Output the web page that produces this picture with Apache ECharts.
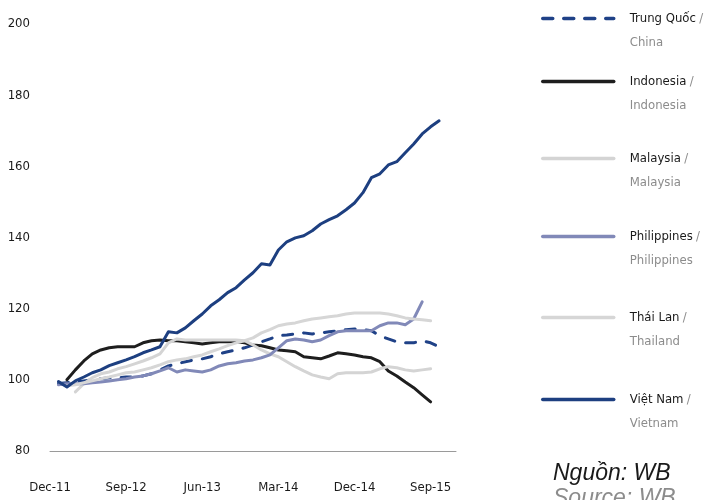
<!DOCTYPE html>
<html>
<head>
<meta charset="utf-8">
<script src="https://cdn.jsdelivr.net/npm/echarts@6/dist/echarts.min.js"></script>
<style>
  html, body { margin: 0; padding: 0; background: #fff; }
  #main { width: 707px; height: 500px; }
</style>
</head>
<body>
<div id="main"></div>
<script>
// monthly categories, Dec-11 .. Dec-15
const months = [
    'Dec-11', 'Jan-12', 'Feb-12', 'Mar-12', 'Apr-12', 'May-12', 'Jun-12', 'Jul-12', 'Aug-12', 'Sep-12', 'Oct-12', 'Nov-12', 'Dec-12',
    'Jan-13', 'Feb-13', 'Mar-13', 'Apr-13', 'May-13', 'Jun-13', 'Jul-13', 'Aug-13', 'Sep-13', 'Oct-13', 'Nov-13', 'Dec-13',
    'Jan-14', 'Feb-14', 'Mar-14', 'Apr-14', 'May-14', 'Jun-14', 'Jul-14', 'Aug-14', 'Sep-14', 'Oct-14', 'Nov-14', 'Dec-14',
    'Jan-15', 'Feb-15', 'Mar-15', 'Apr-15', 'May-15', 'Jun-15', 'Jul-15', 'Aug-15', 'Sep-15', 'Oct-15', 'Nov-15', 'Dec-15'
];
const tickLabels = ['Dec-11', 'Sep-12', 'Jun-13', 'Mar-14', 'Dec-14', 'Sep-15'];
const yTicks = [80, 100, 120, 140, 160, 180, 200];

const namesVi = ['Trung Quốc', 'Indonesia', 'Malaysia', 'Philippines', 'Thái Lan', 'Việt Nam'];
const namesEn = ['China', 'Indonesia', 'Malaysia', 'Philippines', 'Thailand', 'Vietnam'];

const china = [null, 99, 99.2, 99.4, 99.7, 100, 100.3, 100.6, 100.6, 100.8, 100.8, 101.1, 101.7,
    102.8, 103.9, 104.5, 105.1, 105.6, 105.9, 106.5, 107.3, 107.9, 108.4, 109, 109.8,
    110.7, 111.5, 112.4, 112.6, 112.9, 113.2, 112.9, 113.2, 113.5, 113.8, 114.1, 114.3,
    114.1, 113.8, 112.4, 111.5, 110.7, 110.4, 110.4, 111, 110.4, 109.3];
const indonesia = [null, null, 100, 102.8, 105.3, 107.3, 108.4, 109, 109.3, 109.3, 109.3, 110.4, 111,
    111.2, 111, 111, 110.7, 110.4, 110.1, 110.4, 110.7, 110.7, 110.7, 110.4, 109.8,
    109.6, 109, 108.4, 108.2, 107.9, 106.5, 106.2, 105.9, 106.7, 107.6, 107.3, 107,
    106.5, 106.2, 105.1, 102.5, 101.1, 99.4, 97.8, 95.8, 93.8];
const malaysia = [null, null, null, 96.6, 98.9, 100.6, 101.7, 102.2, 103.1, 103.7, 104.5, 105.3, 106.2,
    107.3, 110.4, 111.5, 111.2, 111.2, 111.2, 111.2, 111.2, 111.2, 111.2, 111, 109.8,
    108.4, 107.3, 106.5, 105.1, 103.7, 102.5, 101.4, 100.8, 100.3, 101.7, 102, 102,
    102, 102.2, 103.1, 103.7, 103.4, 102.8, 102.5, 102.8, 103.1];
const philippines = [null, 98.6, 98.9, 98.9, 98.9, 99.2, 99.4, 99.7, 100, 100.3, 100.8, 101.1, 101.7,
    102.5, 103.4, 102.2, 102.8, 102.5, 102.2, 102.8, 103.9, 104.5, 104.8, 105.3, 105.6,
    106.2, 107, 109, 111, 111.5, 111.2, 110.7, 111.2, 112.4, 113.5, 113.8, 113.8,
    113.8, 113.8, 115.2, 116, 116, 115.5, 117.1, 121.9];
const thailand = [null, null, 98.3, 98.6, 99.2, 99.7, 100.3, 100.8, 101.4, 102, 102.2, 102.8, 103.4,
    104.2, 105.1, 105.6, 105.9, 106.5, 107, 107.9, 108.7, 109.6, 110.4, 111, 111.8,
    113.2, 114.1, 115.2, 115.7, 116, 116.6, 117.1, 117.4, 117.7, 118, 118.5, 118.8,
    118.8, 118.8, 118.8, 118.5, 118, 117.4, 117.1, 116.9, 116.6];
const vietnam = [null, 99.5, 98, 99.7, 100.8, 102, 102.8, 104, 104.8, 105.6, 106.5, 107.6, 108.4,
    109.3, 113.5, 113.2, 114.6, 116.6, 118.5, 120.8, 122.5, 124.5, 125.9, 128.1, 130.1,
    132.6, 132.3, 136.5, 138.8, 139.9, 140.5, 141.9, 143.8, 145, 146.1, 147.8, 149.7,
    152.6, 156.8, 157.9, 160.4, 161.3, 163.8, 166.3, 169.1, 171.1, 172.8];

const values = [china, indonesia, malaysia, philippines, thailand, vietnam];
const colors = ['#1f4187', '#1e1e1e', '#d4d4d4', '#8189b8', '#d6d6d6', '#1d3f80'];

const FONT = '"Liberation Sans Narrow", "DejaVu Sans Condensed", sans-serif';

const chart = echarts.init(document.getElementById('main'), null, { renderer: 'canvas' });

// legend rows are not evenly spaced in the original
const legendIconY = [18, 81, 158, 236, 317, 399];

const series = namesEn.map((name, i) => ({
    name: name,
    type: 'line',
    data: values[i],
    symbol: 'none',
    smooth: false,
    color: colors[i],
    lineStyle: {
        color: colors[i],
        width: 3,
        type: i === 0 ? [10, 11] : 'solid',
        cap: 'round',
        join: 'round'
    },
    emphasis: { disabled: true }
}));

const legends = namesEn.map((name, i) => ({
    data: [name],
    left: 541,
    top: legendIconY[i] - 30,
    padding: 0,
    itemWidth: 71,
    itemHeight: 4,
    selectedMode: false,
    itemStyle: { opacity: 0 },
    lineStyle: { width: 3.5 },
    formatter: n => '{e| }\n{a|' + namesVi[i] + '} {s|/}\n{b|' + namesEn[i] + '}',
    textStyle: {
        padding: [0, 0, 0, 11],
        rich: {
            e: { fontSize: 13, lineHeight: 24, fontFamily: FONT },
            a: { fontSize: 13, lineHeight: 24, color: '#1a1a1a', fontFamily: FONT },
            s: { fontSize: 13, lineHeight: 24, color: '#8c8c8c', fontFamily: FONT },
            b: { fontSize: 13, lineHeight: 24, color: '#8c8c8c', fontFamily: FONT }
        }
    }
}));

const option = {
    animation: false,
    backgroundColor: '#fff',
    grid: { left: 50, right: 251, top: 24, bottom: 49 },
    legend: legends,
    xAxis: {
        type: 'category',
        boundaryGap: false,
        data: months,
        axisLine: { lineStyle: { color: '#9a9a9a', width: 1 } },
        axisTick: { show: false },
        axisLabel: {
            interval: (idx, val) => tickLabels.indexOf(val) >= 0,
            margin: 30,
            fontSize: 13,
            color: '#1a1a1a',
            fontFamily: FONT
        },
        splitLine: { show: false }
    },
    yAxis: {
        type: 'value',
        min: yTicks[0],
        max: yTicks[yTicks.length - 1],
        interval: 20,
        axisLine: { show: false },
        axisTick: { show: false },
        splitLine: { show: false },
        axisLabel: {
            margin: 20,
            fontSize: 13,
            color: '#1a1a1a',
            fontFamily: FONT
        }
    },
    graphic: [
        {
            type: 'text', left: 553, top: 462,
            style: { text: 'Nguồn: WB', fontSize: 23, fontStyle: 'italic', fontFamily: '"Liberation Sans", Arial, sans-serif', fill: '#1a1a1a' }
        },
        {
            type: 'text', left: 553, top: 487,
            style: { text: 'Source: WB', fontSize: 23, fontStyle: 'italic', fontFamily: '"Liberation Sans", Arial, sans-serif', fill: '#8c8c8c' }
        }
    ],
    series: series
};

chart.setOption(option);
</script>
</body>
</html>
